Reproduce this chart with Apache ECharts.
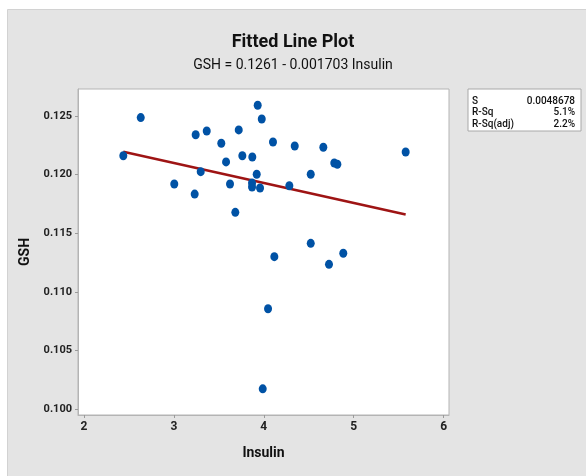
<!DOCTYPE html>
<html>
<head>
<meta charset="utf-8">
<script src="https://cdn.jsdelivr.net/npm/echarts@6/dist/echarts.min.js"></script>
<style>
  html, body { margin: 0; padding: 0; background: #ffffff; }
  #chart { width: 586px; height: 476px; }
</style>
</head>
<body>
<div id="chart"></div>
<script>
// Observations: Insulin (x) and GSH (y)
const insulin = [2.437, 2.631, 3.242, 3.365, 3.721, 3.527, 3.932, 3.977, 4.102, 3.580,
                 3.761, 3.872, 3.298, 3.921, 3.004, 3.624, 3.869, 3.869, 3.958, 3.231,
                 3.683, 4.117, 4.344, 4.662, 4.784, 4.818, 5.578, 4.522, 4.284, 4.522,
                 4.884, 4.725, 4.047, 3.988];
const gsh = [0.12161, 0.12486, 0.12340, 0.12372, 0.12381, 0.12267, 0.12591, 0.12474, 0.12278, 0.12108,
             0.12161, 0.12150, 0.12025, 0.12003, 0.11920, 0.11920, 0.11928, 0.11894, 0.11886, 0.11834,
             0.11678, 0.11300, 0.12244, 0.12233, 0.12099, 0.12088, 0.12193, 0.12003, 0.11905, 0.11414,
             0.11329, 0.11235, 0.10856, 0.10173];

// Regression fit
const intercept = 0.1261;
const slope = -0.001703;

// Axis tick labels
const xTicks = [2, 3, 4, 5, 6];
const yTicks = [0.100, 0.105, 0.110, 0.115, 0.120, 0.125];

// Summary statistics
const statNames = ['S', 'R-Sq', 'R-Sq(adj)'];
const statValues = ['0.0048678', '5.1%', '2.2%'];

const FONT = 'Roboto, "Noto Sans", sans-serif';

const points = insulin.map((x, i) => [x, gsh[i]]);
const xLo = Math.min(...insulin), xHi = Math.max(...insulin);
const fitLine = [[xLo, intercept + slope * xLo], [xHi, intercept + slope * xHi]];

const chart = echarts.init(document.getElementById('chart'), null, { renderer: 'canvas' });

// Statistics box rows: name on the left, value right-aligned
const statsText = [];
statNames.forEach((n, i) => {
  statsText.push({ type: 'text', x: 472, y: 101 + i * 11.7, z: 10,
    style: { text: n, font: '500 10px ' + FONT, fill: '#111', verticalAlign: 'middle' } });
  statsText.push({ type: 'text', x: 575, y: 101 + i * 11.7, z: 10,
    style: { text: statValues[i], font: '500 10px ' + FONT, fill: '#111', align: 'right', verticalAlign: 'middle' } });
});

chart.setOption({
  backgroundColor: '#ffffff',
  animation: false,
  graphic: [
    { type: 'rect', left: 7, top: 9, z: -10,
      shape: { width: 579, height: 467 },
      style: { fill: '#e4e4e4', stroke: '#d2d2d2', lineWidth: 1 } },
    { type: 'text', left: 'center', top: 33, z: 10,
      style: { text: 'Fitted Line Plot', font: 'bold 18px ' + FONT, fill: '#111' } },
    { type: 'text', left: 'center', top: 58, z: 10,
      style: { text: 'GSH = 0.1261 - 0.001703 Insulin', font: '14px ' + FONT, fill: '#111' } },
    { type: 'rect', x: 468, y: 89, z: 5,
      shape: { width: 113, height: 42 },
      style: { fill: '#ffffff', stroke: '#a8a8a8', lineWidth: 1 } },
    ...statsText
  ],
  grid: {
    left: 78, top: 89, right: 137, bottom: 61,
    show: true, backgroundColor: '#ffffff', borderColor: '#b4b4b4', borderWidth: 1
  },
  xAxis: {
    type: 'value',
    min: 1.933, max: 6.06,
    name: 'Insulin',
    nameLocation: 'middle',
    nameGap: 31,
    nameTextStyle: { fontFamily: FONT, fontSize: 14, fontWeight: 'bold', color: '#111' },
    axisLine: { show: true, lineStyle: { color: '#b4b4b4' } },
    axisTick: { show: true, length: 3, customValues: xTicks, lineStyle: { color: '#9a9a9a' } },
    axisLabel: { customValues: xTicks, margin: 6, fontFamily: FONT, fontSize: 12,
                 fontWeight: 'bold', color: '#222' },
    splitLine: { show: false }
  },
  yAxis: {
    type: 'value',
    min: 0.0995, max: 0.1273,
    name: 'GSH',
    nameLocation: 'middle',
    nameGap: 40,
    nameTextStyle: { fontFamily: FONT, fontSize: 14, fontWeight: 'bold', color: '#111' },
    axisLine: { show: true, lineStyle: { color: '#b4b4b4' } },
    axisTick: { show: true, length: 3, customValues: yTicks, lineStyle: { color: '#9a9a9a' } },
    axisLabel: { customValues: yTicks, margin: 6, fontFamily: FONT, fontSize: 11,
                 fontWeight: 'bold', color: '#222',
                 formatter: v => v.toFixed(3) },
    splitLine: { show: false }
  },
  series: [
    {
      type: 'line',
      data: fitLine,
      symbol: 'none',
      lineStyle: { color: '#9e1414', width: 2.5 },
      z: 2
    },
    {
      type: 'scatter',
      data: points,
      symbol: 'circle',
      symbolSize: [8, 9],
      itemStyle: { color: '#0052a5', opacity: 1 },
      z: 3
    }
  ]
});
</script>
</body>
</html>
